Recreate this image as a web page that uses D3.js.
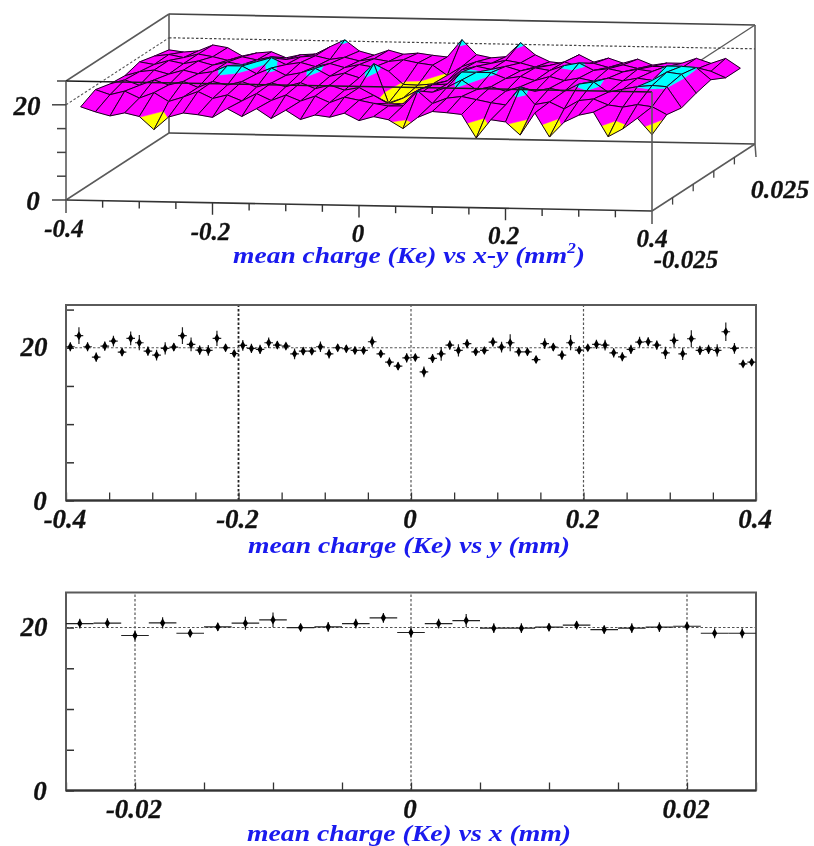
<!DOCTYPE html>
<html><head><meta charset="utf-8">
<script src="https://cdn.jsdelivr.net/npm/d3@7"></script>
<style>
html,body{margin:0;padding:0;background:#fff}
svg{display:block;filter:blur(0.55px)}
text{font-family:"Liberation Serif",serif;font-weight:bold;font-style:italic}
</style></head><body>
<svg id="c" width="814" height="846"></svg>
<script>
// ---------- surface: mean charge per bin, rows run from y=-0.025 side to y=+0.025 side
const surfaceRow0=[18.6,17.6,16.8,17.5,16.8,14.1,16.8,17.7,17.4,16.9,18.8,17.2,18.9,16.9,18.7,16.8,17.8,17.4,18.3,16.8,17.7,17.1,15.3,17.7,19.0,18.8,18.5,13.6,17.5,17.1,14.4,19.1,14.1,17.3,18.8,19.5,14.4,16.1,18.4,15.0];
const surfaceRow1=[20.2,19.2,20.0,18.6,19.8,18.0,19.0,20.2,18.8,19.6,18.4,20.0,18.6,19.8,18.6,19.7,18.4,19.6,19.0,18.4,17.9,18.0,21.2,18.6,19.8,20.2,19.6,19.0,18.6,22.3,18.8,19.4,18.0,19.8,20.2,19.0,18.6,19.2,18.8,17.2];
const surfaceRow2=[19.4,20.3,19.2,20.4,19.4,20.2,19.0,20.3,19.6,20.4,19.3,20.2,19.5,20.4,19.2,20.0,19.0,19.6,18.0,16.3,16.4,18.2,18.9,20.0,21.6,19.6,20.3,19.4,20.4,19.5,20.2,19.6,21.2,21.7,19.6,20.3,20.9,21.2,21.0,16.6];
const surfaceRow3=[19.1,20.0,20.4,19.6,20.5,19.8,20.3,21.6,21.6,20.0,21.3,19.8,20.4,21.4,19.8,20.5,19.6,22.6,14.4,15.5,17.2,18.4,18.6,21.2,21.2,21.2,20.0,20.5,19.7,20.6,19.8,20.4,19.8,20.5,20.0,20.6,20.2,22.0,21.6,17.7];
const surfaceRow4=[20.0,19.5,20.4,19.8,20.4,19.6,20.3,19.8,20.5,21.4,20.0,20.5,19.7,20.4,19.6,20.3,19.8,19.0,16.3,16.2,16.5,17.2,19.6,20.4,19.8,20.5,19.6,20.3,19.8,20.9,21.5,20.0,20.4,19.8,20.4,20.0,21.2,21.2,21.0,18.5];
const surfaceRow5=[19.2,19.6,19.0,19.8,19.3,18.6,19.4,18.8,19.5,19.0,19.6,19.9,19.2,19.7,19.0,19.5,19.0,19.4,18.8,18.4,16.3,18.2,19.3,19.0,19.7,19.2,18.4,18.8,19.6,18.6,19.4,18.6,19.2,18.5,19.0,19.0,18.8,18.6,18.2,16.9];
const surfaceRow6=[18.5,18.1,18.4,19.7,19.2,17.5,18.2,18.5,17.3,18.0,18.2,19.8,21.3,19.0,18.2,19.3,18.5,18.8,18.4,18.1,21.8,18.7,18.1,18.4,21.4,18.9,17.5,17.2,19.1,17.6,18.5,17.5,18.4,17.2,17.7,17.7,18.8,17.8,18.9,16.9];
const surfaceZ=[surfaceRow0,surfaceRow1,surfaceRow2,surfaceRow3,surfaceRow4,surfaceRow5,surfaceRow6];
const surfaceLevels=[16.67,20.83];
const surfaceColours=["#ffff00","#ff00ff","#00ffff"];

// ---------- mean charge vs y (80 bins, -0.4..0.4)
const chargeVsY=[20.13,21.58,20.13,18.77,20.22,20.88,19.43,21.23,20.66,19.56,19.04,19.91,20.09,21.58,20.44,19.69,19.65,21.23,20.0,19.25,20.31,19.91,19.78,20.66,20.35,20.22,19.21,19.56,19.56,20.13,19.21,20.0,19.87,19.65,19.65,20.79,19.21,18.11,17.59,18.68,18.73,
16.84,18.6,19.21,20.35,19.65,20.53,19.47,19.65,20.75,20.09,20.66,19.47,19.47,18.46,20.53,20.09,19.04,20.66,19.69,20.0,20.44,20.35,19.34,18.82,19.78,20.75,20.79,20.35,19.34,20.96,19.21,21.18,19.65,19.78,19.65,22.1,19.91,17.89,18.11];
const errVsY=[0.6,1.1,0.6,0.6,0.6,0.7,0.5,0.9,1.0,0.6,0.7,0.8,0.5,1.1,0.9,0.6,0.7,1.0,0.5,0.4,0.7,0.6,0.6,0.7,0.5,0.4,0.7,0.5,0.4,0.7,0.6,0.5,0.5,0.5,0.5,0.7,0.5,0.6,0.5,0.6,0.5,
0.7,0.6,0.9,0.6,0.8,0.6,0.5,0.4,0.6,0.7,1.1,0.6,0.5,0.5,0.7,0.5,0.6,1.0,0.5,0.4,0.6,0.7,0.6,0.6,0.6,0.7,0.6,0.6,0.8,0.9,0.8,1.1,0.6,0.6,0.8,1.2,0.7,0.4,0.4];
const ticksY=[-0.4,-0.35,-0.3,-0.25,-0.2,-0.15,-0.1,-0.05,0,0.05,0.1,0.15,0.2,0.25,0.3,0.35,0.4];
const labelsY=[-0.4,-0.2,0,0.2,0.4];
const gridY=[-0.2,0,0.2];

// ---------- mean charge vs x (25 bins, -0.025..0.025)
const chargeVsX=[20.49,20.53,19.02,20.57,19.3,20.08,20.53,20.94,20.0,20.08,20.49,21.19,19.39,20.49,20.86,19.92,19.92,20.04,20.29,19.75,19.92,20.04,20.16,19.3,19.3];
const errVsX=[0.6,0.6,0.6,0.7,0.5,0.5,0.8,0.9,0.5,0.6,0.6,0.6,0.6,0.6,0.8,0.6,0.6,0.5,0.5,0.5,0.6,0.6,0.5,0.6,0.6];
const ticksX=[-0.025,-0.02,-0.015,-0.01,-0.005,0,0.005,0.01,0.015,0.02,0.025];
const labelsX=[-0.02,0,0.02];
const gridX=[-0.02,0,0.02];
const ticksCharge=[0,5,10,15,20,25];
const ticksSurfaceX=ticksY;
const ticksSurfaceY=[-0.025,-0.015,-0.005,0.005,0.015,0.025];

const svg=d3.select("#c");
const ink="#5a5a5a";

function title(y,txt,w,sup,end){
  const t=svg.append("text").attr("x",409).attr("y",y).attr("text-anchor","middle")
    .attr("font-size",24).attr("fill","#1a1aee").attr("textLength",w).attr("lengthAdjust","spacingAndGlyphs").text(txt);
  if(sup){t.append("tspan").attr("dy",-10).attr("font-size",15).text(sup);
          t.append("tspan").attr("dy",10).text(end);}
}
function lab(x,y,s,size){
  svg.append("text").attr("x",x).attr("y",y).attr("text-anchor","middle").attr("dominant-baseline","central")
    .attr("font-size",size||27).attr("stroke","#111").attr("stroke-width",.3).attr("fill","#111").text(s);
}
const fmtLab=v=>v===0?"0":String(v);

function panel(o){
  const x=d3.scaleLinear().domain(o.xd).range([66,756]);
  const y=d3.scaleLinear().domain([0,o.ymax]).range([o.y0,o.y1]);
  const g=svg.append("g");
  g.selectAll("line.gv").data(o.grid).join("line").attr("x1",d=>x(d)).attr("x2",d=>x(d))
    .attr("y1",o.y0).attr("y2",o.y1).attr("stroke",d=>d===o.darkGrid?"#222":"#555")
    .attr("stroke-width",d=>d===o.darkGrid?1.8:1.2).attr("stroke-dasharray","2.5 2");
  g.append("line").attr("x1",66).attr("x2",756).attr("y1",y(20)).attr("y2",y(20))
    .attr("stroke","#555").attr("stroke-width",1.1).attr("stroke-dasharray","2.5 2");
  const ax=g.append("g").attr("transform",`translate(0,${o.y0})`)
    .call(d3.axisBottom(x).tickValues(o.ticks).tickSize(-8).tickFormat(""));
  ax.select(".domain").remove();
  ax.selectAll("line").attr("stroke","#333").attr("stroke-width",1.3);
  const ay=g.append("g").attr("transform","translate(66,0)")
    .call(d3.axisLeft(y).tickValues(ticksCharge.filter(d=>d<=o.ymax)).tickSize(-8).tickFormat(""));
  ay.select(".domain").remove();
  ay.selectAll("line").attr("stroke","#333").attr("stroke-width",1.5);
  g.append("path").attr("d",`M66,${o.y0}H756V${o.y1}H66Z`).attr("fill","none").attr("stroke",ink).attr("stroke-width",2);
  g.append("line").attr("x1",66).attr("x2",756).attr("y1",o.y0).attr("y2",o.y0).attr("stroke","#333").attr("stroke-width",2);
  const bins=d3.range(o.vals.length), w=(o.xd[1]-o.xd[0])/o.vals.length;
  const cx=i=>x(o.xd[0]+(i+.5)*w);
  const pts=g.append("g");
  pts.selectAll("path.e").data(bins).join("path")
    .attr("d",i=>`M${x(o.xd[0]+i*w)},${y(o.vals[i])}H${x(o.xd[0]+(i+1)*w)}M${cx(i)},${y(o.vals[i]-o.errs[i])}V${y(o.vals[i]+o.errs[i])}`)
    .attr("stroke","#222").attr("stroke-width",1.2).attr("fill","none");
  pts.selectAll("path.m").data(bins).join("path")
    .attr("transform",i=>`translate(${cx(i)},${y(o.vals[i])})`)
    .attr("d",d3.symbol(d3.symbolDiamond,24)).attr("fill","#000");
  o.labels.forEach(v=>lab(x(v)+o.labDx,o.labY,fmtLab(v)));
  lab(34,y(20)-1,"20");lab(40,o.y0,"0");
}

// ---------- 3D panel
const sx=d3.scaleLinear().domain([-0.4,0.4]).range([0,1]);
const sy=d3.scaleLinear().domain([-0.025,0.025]).range([0,1]);
const sz=d3.scaleLinear().domain([0,25]).range([0,119]);
function P(xv,yv,zv){const a=sx(xv),b=sy(yv);return [66+586*a+103*b,200+11*a-67*b-sz(zv)];}
const [XA,XB,YA,YB]=[-0.4,0.4,-0.025,0.025];
function seg(a,b,st,sw,dash){
  const l=svg.append("line").attr("x1",a[0]).attr("y1",a[1]).attr("x2",b[0]).attr("y2",b[1])
    .attr("stroke",st).attr("stroke-width",sw);
  if(dash)l.attr("stroke-dasharray",dash);return l;
}
seg(P(XA,YB,0),P(XA,YB,25),ink,1.6);
seg(P(XA,YB,25),P(XB,YB,25),"#444",1.7);
seg(P(XA,YB,0),P(XB,YB,0),"#444",1.7);
seg(P(XA,YA,25),P(XA,YB,25),ink,1.5);
seg(P(XA,YA,0),P(XA,YB,0),ink,1.5);
seg(P(XB,YB,0),P(XB,YB,25),ink,1.6);
seg(P(XB,YA,25),P(XB,YB,25),ink,1.4);
seg(P(XA,YA,20),P(XA,YB,20),"#555",1.1,"2.5 2");
seg(P(XA,YB,20),P(XB,YB,20),"#444",1.2,"2.5 2");

const nx=surfaceZ[0].length, ny=surfaceZ.length;
const bx=i=>XA+(i+.5)*(XB-XA)/nx, by=j=>YA+(j+.5)*(YB-YA)/ny;
function clipBand(poly,lo,hi){
  const cut=(pts,lev,keepAbove)=>{const out=[];
    pts.forEach((p,k)=>{const q=pts[(k+1)%pts.length];
      const pin=keepAbove?p[2]>=lev:p[2]<=lev, qin=keepAbove?q[2]>=lev:q[2]<=lev;
      if(pin)out.push(p);
      if(pin!==qin){const t=(lev-p[2])/(q[2]-p[2]);out.push([p[0]+t*(q[0]-p[0]),p[1]+t*(q[1]-p[1]),lev]);}
    });return out;};
  let r=poly; if(lo!=null)r=cut(r,lo,true); if(r.length&&hi!=null)r=cut(r,hi,false); return r;
}
const gs=svg.append("g");
const line=d3.line().x(p=>P(p[0],p[1],p[2])[0]).y(p=>P(p[0],p[1],p[2])[1]);
for(let j=ny-2;j>=0;j--){
  for(let i=0;i<nx-1;i++){
    const q=[[bx(i),by(j),surfaceZ[j][i]],[bx(i+1),by(j),surfaceZ[j][i+1]],[bx(i+1),by(j+1),surfaceZ[j+1][i+1]],[bx(i),by(j+1),surfaceZ[j+1][i]]];
    surfaceColours.forEach((c,k)=>{
      const r=clipBand(q,k?surfaceLevels[k-1]:null,k<surfaceLevels.length?surfaceLevels[k]:null);
      if(r.length>2)gs.append("path").attr("d",line(r)+"Z").attr("fill",c).attr("stroke",c).attr("stroke-width",.5);
    });
    gs.append("path").attr("d",line(q)+"Z").attr("fill","none").attr("stroke","#14001a").attr("stroke-width",1).attr("stroke-linejoin","round");
  }
}
seg(P(XA,YA,25),P(XB,YA,25),"#1a1a1a",1.5);
seg(P(XA,YA,0),P(XB,YA,0),"#333",1.7);
seg(P(XA,YA,25),[66,213],ink,1.6);
seg(P(XB,YA,25),[P(XB,YA,0)[0],P(XB,YA,0)[1]+13],ink,1.6);
seg(P(XB,YA,0),P(XB,YB,0),ink,1.5);
seg(P(XB,YB,0),[756,157],ink,1.5);
ticksCharge.forEach(v=>{const p=P(XA,YA,v);seg([p[0]-(v%20===0?14:9),p[1]],p,"#444",1.5);});
ticksSurfaceX.forEach(v=>{const p=P(v,YA,0);if(v>-0.4&&v<0.4)seg(p,[p[0],p[1]+(Math.abs(v*10)%2<1e-6?12:7)],"#333",1.4);});
ticksSurfaceY.forEach(v=>{const p=P(XB,v,0);if(v>YA&&v<YB)seg(p,[p[0],p[1]+7],"#444",1.3);});
lab(27,106,"20");lab(33,201,"0");
[[XA,-2,228],[-0.2,-2,231],[0,-1,233],[0.2,-2,235],[0.4,0,238]].forEach(d=>{
  const p=P(d[0],YA,0);lab(p[0]+d[1],d[2],fmtLab(d[0]),25);});
lab(686,259,"-0.025",25);lab(780,189,"0.025",26);
title(263,"mean charge (Ke) vs x-y (mm",352,"2",")");

panel({xd:[-0.4,0.4],ymax:25.6,y0:500.5,y1:305,vals:chargeVsY,errs:errVsY,ticks:ticksY,grid:gridY,darkGrid:-0.2,labels:labelsY,labY:519,labDx:-1});
title(553,"mean charge (Ke) vs y (mm)",322);
panel({xd:[-0.025,0.025],ymax:24.3,y0:790.5,y1:592.5,vals:chargeVsX,errs:errVsX,ticks:ticksX,grid:gridX,darkGrid:null,labels:labelsX,labY:809,labDx:-1});
title(841,"mean charge (Ke) vs x (mm)",324);
</script>
</body></html>
